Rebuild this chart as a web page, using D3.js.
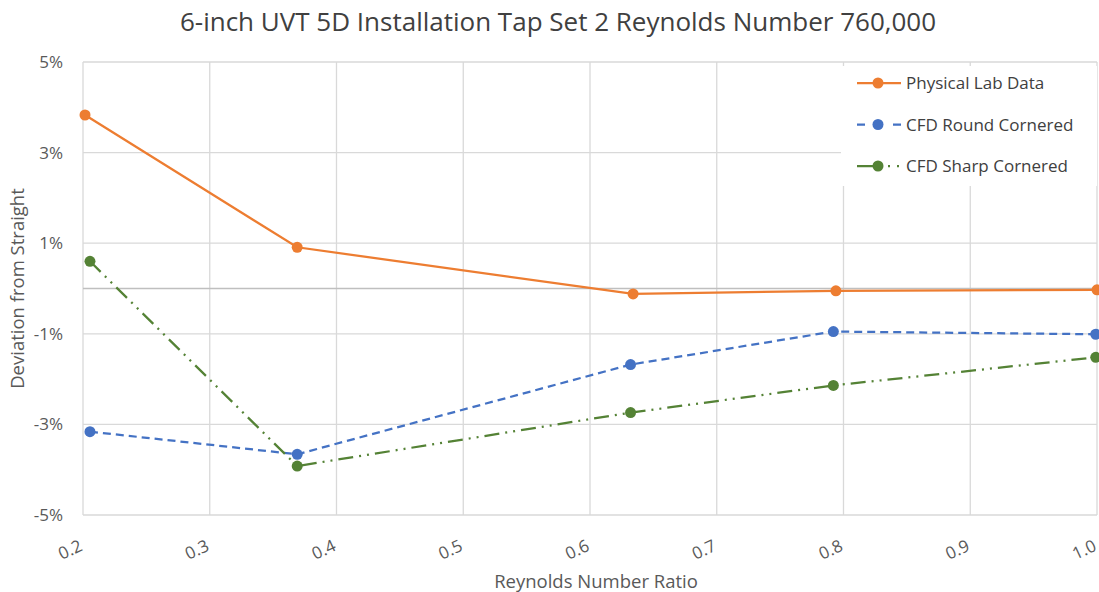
<!DOCTYPE html>
<html>

<head>
  <meta charset="utf-8">
  <style type="text/css">
    body {
      margin: 0;
      background: #fff;
      font-family: "Open Sans", sans-serif;
    }
  </style>
  <title>Tap Set 2</title>
</head>

<body>
  <script src="https://cdn.jsdelivr.net/npm/d3@7"></script>
  <script>
    // values (deviation in %)
    var labX = [0.2016, 0.369, 0.634, 0.794, 1.0];
    var labY = [3.83, 0.91, -0.12, -0.05, -0.03];
    var cfdX = [0.2055, 0.369, 0.632, 0.792, 0.999];
    var roundY = [-3.16, -3.66, -1.68, -0.95, -1.01];
    var sharpY = [0.6, -3.92, -2.74, -2.14, -1.52];
    var xTicks = [0.2, 0.3, 0.4, 0.5, 0.6, 0.7, 0.8, 0.9, 1.0];
    var yTicks = [5, 3, 1, -1, -3, -5];
    var seriesNames = ["Physical Lab Data", "CFD Round Cornered", "CFD Sharp Cornered"];

    var width = 1099, height = 592;
    var margin = { top: 62, right: 2, bottom: 77, left: 83 };
    var w = width - margin.left - margin.right,
      h = height - margin.top - margin.bottom;

    var x = d3.scaleLinear().domain([0.2, 1.0]).range([0, w]);
    var y = d3.scaleLinear().domain([-5, 5]).range([h, 0]);

    var svg = d3.select("body").append("svg")
      .attr("width", width)
      .attr("height", height);

    svg.append("text")
      .attr("x", 558)
      .attr("y", 31)
      .attr("text-anchor", "middle")
      .attr("font-size", 26)
      .attr("fill", "#404040")
      .text("6-inch UVT 5D Installation Tap Set 2 Reynolds Number 760,000");

    var g = svg.append("g")
      .attr("transform", "translate(" + margin.left + "," + margin.top + ")");

    // grid
    g.selectAll(".vg").data(xTicks).enter().append("line")
      .attr("x1", d => x(d)).attr("x2", d => x(d))
      .attr("y1", 0).attr("y2", h)
      .attr("stroke", "#d9d9d9").attr("stroke-width", 1.3);
    g.selectAll(".hg").data(yTicks).enter().append("line")
      .attr("x1", 0).attr("x2", w)
      .attr("y1", d => y(d)).attr("y2", d => y(d))
      .attr("stroke", "#d9d9d9").attr("stroke-width", 1.3);
    g.append("line")
      .attr("x1", 0).attr("x2", w)
      .attr("y1", y(0)).attr("y2", y(0))
      .attr("stroke", "#bfbfbf").attr("stroke-width", 1.3);

    // y axis labels
    var yAxis = d3.axisLeft(y).tickValues(yTicks).tickSize(0).tickPadding(20)
      .tickFormat(d => d + "%");
    var ya = g.append("g").call(yAxis);
    ya.select(".domain").remove();
    ya.selectAll("text").attr("font-size", 17).attr("fill", "#595959")
      .attr("font-family", "Open Sans, sans-serif");

    // x axis labels (rotated, right end at the tick)
    var xAxis = d3.axisBottom(x).tickValues(xTicks).tickSize(0)
      .tickFormat(d3.format(".1f"));
    var xa = g.append("g").attr("transform", "translate(0," + h + ")").call(xAxis);
    xa.select(".domain").remove();
    xa.selectAll("text")
      .attr("font-size", 17).attr("fill", "#595959")
      .attr("font-family", "Open Sans, sans-serif")
      .attr("text-anchor", "end")
      .attr("dy", null)
      .attr("y", 0)
      .attr("transform", "translate(0,35) rotate(-25)");

    svg.append("text")
      .attr("x", 596).attr("y", 588)
      .attr("text-anchor", "middle")
      .attr("font-size", 18.5).attr("fill", "#595959")
      .text("Reynolds Number Ratio");

    svg.append("text")
      .attr("transform", "translate(24," + (margin.top + y(0)) + ") rotate(-90)")
      .attr("text-anchor", "middle")
      .attr("font-size", 18.5).attr("fill", "#595959")
      .text("Deviation from Straight");

    var series = [
      { name: seriesNames[0], xs: labX, ys: labY, color: "#ed7d31", dash: null },
      { name: seriesNames[1], xs: cfdX, ys: roundY, color: "#4472c4", dash: "8,5" },
      { name: seriesNames[2], xs: cfdX, ys: sharpY, color: "#548235", dash: "15,6,2,6,2,6" }
    ];

    var line = d3.line()
      .x(d => x(d[0]))
      .y(d => y(d[1]));

    series.forEach(function (s) {
      var pts = s.xs.map((v, i) => [v, s.ys[i]]);
      g.append("path").datum(pts)
        .attr("d", line)
        .attr("fill", "none")
        .attr("stroke", s.color)
        .attr("stroke-width", 2.25)
        .attr("stroke-dasharray", s.dash);
      g.selectAll(null).data(pts).enter().append("circle")
        .attr("cx", d => x(d[0]))
        .attr("cy", d => y(d[1]))
        .attr("r", 5.5)
        .attr("fill", s.color);
    });

    // legend
    var leg = svg.append("g").attr("transform", "translate(841,66)");
    leg.append("rect")
      .attr("width", 256).attr("height", 120)
      .attr("fill", "#fff");
    series.forEach(function (s, i) {
      var ly = 17 + i * 41.5;
      leg.append("line")
        .attr("x1", 16).attr("x2", 60)
        .attr("y1", ly).attr("y2", ly)
        .attr("stroke", s.color).attr("stroke-width", 2.25)
        .attr("stroke-dasharray", i == 1 ? "8,28,8" : (i == 2 ? "24,7,2,7,2" : null));
      leg.append("circle")
        .attr("cx", 37).attr("cy", ly).attr("r", 5.5)
        .attr("fill", s.color);
      leg.append("text")
        .attr("x", 65).attr("y", ly + 6)
        .attr("font-size", 17).attr("fill", "#404040")
        .text(s.name);
    });
  </script>
</body>

</html>
